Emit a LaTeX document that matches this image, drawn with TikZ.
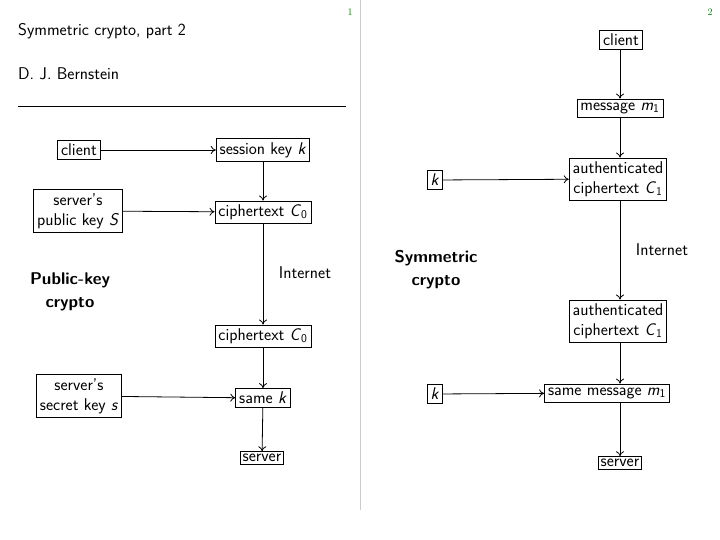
\documentclass[tikz,border=0pt]{standalone}
\usepackage{fontspec}
\usetikzlibrary{arrows.meta}
\begin{document}
\begin{tikzpicture}[x=1pt,y=-1pt,
  every node/.style={font=\fontsize{17}{20}\selectfont\sffamily},
  box/.style={draw,thick,inner sep=3.5pt,align=center},
  arr/.style={-{To[length=5pt,width=8pt]},thick},
  lbl/.style={inner sep=0pt}]
\useasboundingbox (0,0) rectangle (720,540);
\draw[gray!40] (360,0) -- (360,510);
\node[lbl,text=green!50!black,font=\fontsize{10}{12}\selectfont\rmfamily] (p1) at (350,12) {1};
\node[lbl,text=green!50!black,font=\fontsize{10}{12}\selectfont\rmfamily] (p2) at (710,12) {2};
\node[lbl,anchor=west] (title) at (18,31) {Symmetric crypto, part 2};
\node[lbl,anchor=west] (auth) at (18,74) {D. J. Bernstein};
\draw (18,106) -- (346,106);
% left
\node[box] (cl) at (79,150) {client};
\node[box] (sk) at (263,150) {session key \textit{k}};
\node[box] (pk) at (78,211) {server's\\public key \textit{S}};
\node[box] (c0) at (263,212) {ciphertext \textit{C}\textsubscript{0}};
\node[lbl] (inet1) at (305,273) {Internet};
\node[lbl,align=center,font=\fontsize{17}{23}\selectfont\sffamily\bfseries] (pkc) at (70,292) {Public-key\\crypto};
\node[box] (c0b) at (263,336) {ciphertext \textit{C}\textsubscript{0}};
\node[box] (ssk) at (79,396) {server's\\secret key \textit{s}};
\node[box] (same) at (263,398) {same \textit{k}};
\node[box,inner sep=2.5pt] (srv1) at (262,458) {server};
\draw[arr] (cl) -- (sk);
\draw[arr] (pk) -- (c0);
\draw[arr] (sk) -- (c0);
\draw[arr] (c0) -- (c0b);
\draw[arr] (c0b) -- (same);
\draw[arr] (ssk) -- (same);
\draw[arr] (same) -- (srv1);
% right
\node[box] (cl2) at (621,40) {client};
\node[box] (msg) at (620,108) {message \textit{m}\textsubscript{1}};
\node[box] (ac1) at (618,179) {authenticated\\ciphertext \textit{C}\textsubscript{1}};
\node[box] (k1) at (435,180) {\textit{k}};
\node[lbl] (inet2) at (662,250) {Internet};
\node[lbl,align=center,font=\fontsize{17}{23}\selectfont\sffamily\bfseries] (sym) at (436,270) {Symmetric\\crypto};
\node[box] (ac2) at (618,321) {authenticated\\ciphertext \textit{C}\textsubscript{1}};
\node[box] (k2) at (435,394) {\textit{k}};
\node[box] (sm) at (607,393) {same message \textit{m}\textsubscript{1}};
\node[box,inner sep=2.5pt] (srv2) at (620,463) {server};
\draw[arr] (cl2.south -| 620,0) -- (msg.north -| 620,0);
\draw[arr] (msg.south -| 620,0) -- (ac1.north -| 620,0);
\draw[arr] (k1) -- (ac1);
\draw[arr] (ac1.south -| 620,0) -- (ac2.north -| 620,0);
\draw[arr] (ac2.south -| 620,0) -- (sm.north -| 620,0);
\draw[arr] (k2) -- (sm);
\draw[arr] (sm.south -| 620,0) -- (srv2);
\end{tikzpicture}
\end{document}
